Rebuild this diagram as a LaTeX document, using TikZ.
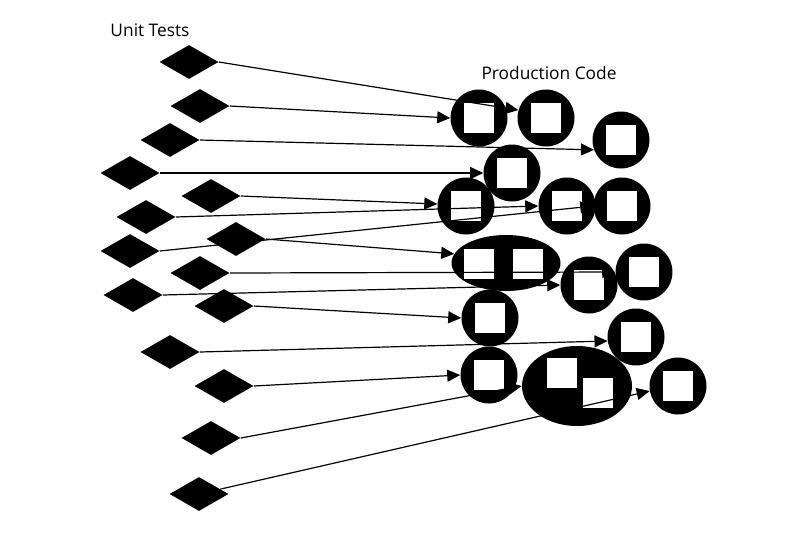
\documentclass[tikz,border=0pt]{standalone}
\usepackage{fontspec}
\setmainfont{Open Sans}
\usetikzlibrary{shapes.geometric,arrows.meta}
\begin{document}
\begin{tikzpicture}[x=0.75pt,y=-0.75pt,
  test/.style={diamond, fill=black, inner sep=0pt, minimum width=44.25pt, minimum height=25.5pt},
  unit/.style={circle, fill=black, inner sep=0pt, minimum size=42.75pt,
    path picture={\fill[white] (path picture bounding box.center) ++(-11.25pt,-11.25pt) rectangle ++(22.5pt,22.5pt);}},
  blob/.style={ellipse, fill=black, inner sep=0pt},
  sq/.style={rectangle, fill=white, inner sep=0pt, minimum size=22.5pt},
  call/.style={line width=0.9pt, -{Triangle[length=9.75pt,width=9pt]}},
  lbl/.style={font=\fontsize{13}{15}\selectfont, inner sep=0pt}]
\useasboundingbox (0,0) rectangle (792,536);
\fill[white] (0,0) rectangle (792,536);

% labels
\node[lbl] (ut) at (150,30) {Unit Tests};
\node[lbl] (pc) at (549,73) {Production Code};

% production code
\node[unit] (C1) at (479,118) {};
\node[unit] (C2) at (546,118) {};
\node[unit] (C3) at (621,140) {};
\node[unit] (C4) at (512,173) {};
\node[unit] (C5) at (466,206) {};
\node[unit] (C6) at (567,206) {};
\node[unit] (C7) at (622,206) {};
\node[blob, minimum width=81.75pt, minimum height=42pt] (E1) at (506,263) {};
\node[sq] (E1a) at ([shift={(-27.5,1)}]E1.center) {};
\node[sq] (E1b) at ([shift={(22,1)}]E1.center) {};
\node[unit] (C8) at (589,285) {};
\node[unit] (C9) at (644,272) {};
\node[unit] (C10) at (490,318) {};
\node[unit] (C11) at (636,337) {};
\node[unit] (C12) at (489,375) {};
\node[blob, minimum width=82.5pt, minimum height=60pt] (E2) at (577,386) {};
\node[sq] (E2a) at ([shift={(-15,-13)}]E2.center) {};
\node[sq] (E2b) at ([shift={(20.5,7)}]E2.center) {};
\node[unit] (C13) at (678,386) {};

% unit tests
\node[test] (D1) at (189,62) {};
\node[test] (D2) at (200,106) {};
\node[test] (D3) at (170,140) {};
\node[test] (D4) at (130,173) {};
\node[test] (D5) at (211,196) {};
\node[test] (D6) at (146,217) {};
\node[test] (D8) at (130,251) {};
\node[test] (D7) at (236,239) {};
\node[test] (D9) at (200,273) {};
\node[test] (D10) at (133,295) {};
\node[test] (D11) at (224,306) {};
\node[test] (D12) at (170,352) {};
\node[test] (D13) at (224,386) {};
\node[test] (D14) at (211,438) {};
\node[test] (D15) at (199,494) {};

% calls
\draw[call] (D1.east) -- (C2.164);
\draw[call] (D2.east) -- (C1.west);
\draw[call] (D3.east) -- (C3.200);
\draw[call] (D4.east) -- (C4.west);
\draw[call] (D5.east) -- (C5.176);
\draw[call] (D6.east) -- (C6.west);
\draw[call] (D8.east) -- (C7.west);
\draw[call] (D7.east) -- (E1.170);
\draw[call] (D9.east) -- (C9.west);
\draw[call] (D10.east) -- (C8.west);
\draw[call] (D11.east) -- (C10.west);
\draw[call] (D12.east) -- (C11.188);
\draw[call] (D13.east) -- (C12.west);
\draw[call] (D14.east) -- (E2.west);
\draw[call] (D15) -- (C13.190);
\end{tikzpicture}
\end{document}
